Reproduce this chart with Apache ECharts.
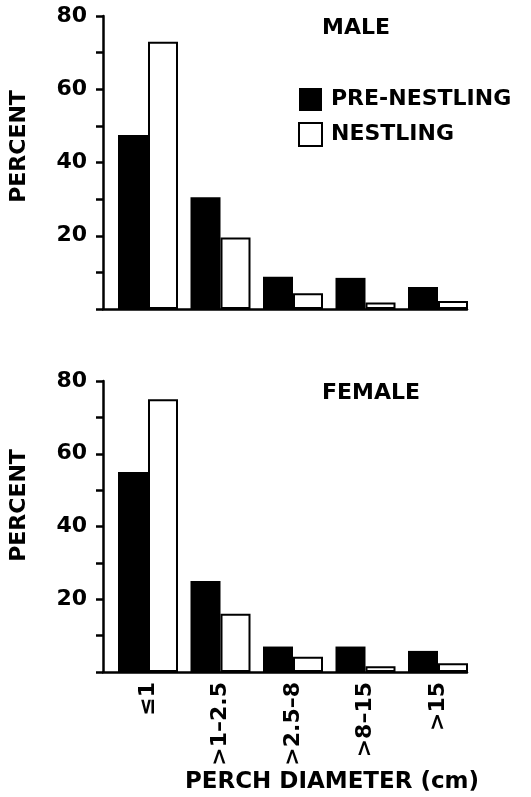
<!DOCTYPE html>
<html>
<head>
<meta charset="utf-8">
<script src="https://cdn.jsdelivr.net/npm/echarts@6/dist/echarts.min.js"></script>
<style>
  html, body { margin: 0; padding: 0; background: #fff; }
  #chart { width: 531px; height: 797px; }
</style>
</head>
<body>
<div id="chart"></div>
<script>
// perch diameter classes
const categories = ["≤1", ">1–2.5", ">2.5–8", ">8–15", ">15"];
// percent of perches
const malePre = [47.5, 30.5, 8.8, 8.5, 6];
const maleNest = [73, 19.5, 4.3, 1.8, 2.2];
const femalePre = [55, 25, 7, 7, 5.8];
const femaleNest = [75, 16, 4.2, 1.6, 2.4];
const yTickLabels = [20, 40, 60, 80];

const FONT = "DejaVu Sans";
const txt = { color: "#000", fontFamily: FONT, fontWeight: "bold", fontSize: 22 };
const line = { color: "#000", width: 2.5 };

var myChart = echarts.init(document.getElementById("chart"));

// two panels: grid 0/2 hold the axis lines, grid 1/3 hold the bars
const panels = [
  { top: 16, bottom: 488, title: "MALE", titleTop: 17, nameShift: 32 },
  { top: 381, bottom: 125, title: "FEMALE", titleTop: 382, nameShift: 42 },
];

var grid = [], xAxis = [], yAxis = [], title = [];
panels.forEach((p, i) => {
  grid.push({ left: 101, right: 64, top: p.top, bottom: p.bottom });
  grid.push({ left: 111.75, right: 56.75, top: p.top, bottom: p.bottom });
  title.push({ text: p.title, left: 322, top: p.titleTop, padding: 0, textStyle: txt });

  // axis line only
  xAxis.push({
    type: "value", gridIndex: 2 * i, min: 0, max: 1,
    axisLine: { show: true, onZero: false, lineStyle: line },
    axisTick: { show: false }, axisLabel: { show: false }, splitLine: { show: false },
  });
  // category axis for bars
  xAxis.push({
    type: "category", gridIndex: 2 * i + 1, data: categories,
    axisLine: { show: false }, axisTick: { show: false },
    axisLabel: { show: i === 1, rotate: 90, margin: 10, interval: 0, ...txt },
    name: i === 1 ? "PERCH DIAMETER (cm)" : "",
    nameLocation: "middle", nameGap: 99,
    nameTextStyle: { ...txt, fontSize: 23, padding: [0, 0, 0, 78] },
  });

  yAxis.push({
    type: "value", gridIndex: 2 * i, min: 0, max: 80, interval: 10,
    name: "PERCENT", nameLocation: "middle", nameGap: 73,
    nameTextStyle: { ...txt, padding: [0, 0, 0, p.nameShift] },
    axisLine: { show: true, lineStyle: line },
    axisTick: { show: true, length: 7, lineStyle: line },
    axisLabel: {
      margin: 16, ...txt,
      formatter: (v) => (yTickLabels.includes(v) ? String(v) : ""),
    },
    splitLine: { show: false },
  });
  yAxis.push({
    type: "value", gridIndex: 2 * i + 1, min: 0, max: 80, show: false,
  });
});

const preStyle = { color: "#000" };
const nestStyle = { color: "#fff", borderColor: "#000", borderWidth: 2 };

var option = {
  animation: false,
  backgroundColor: "#fff",
  title: title,
  grid: grid,
  xAxis: xAxis,
  yAxis: yAxis,
  legend: {
    orient: "vertical", left: 298, top: 88, padding: 0,
    itemWidth: 23, itemHeight: 23, itemGap: 11,
    icon: "rect",
    textStyle: { ...txt, padding: [0, 0, 0, 4] },
    data: ["PRE-NESTLING", "NESTLING"],
  },
  series: [
    { name: "PRE-NESTLING", type: "bar", xAxisIndex: 1, yAxisIndex: 1, data: malePre, barWidth: 30, barGap: "0%", itemStyle: preStyle },
    { name: "NESTLING", type: "bar", xAxisIndex: 1, yAxisIndex: 1, data: maleNest, barWidth: 30, barGap: "0%", itemStyle: nestStyle },
    { name: "PRE-NESTLING", type: "bar", xAxisIndex: 3, yAxisIndex: 3, data: femalePre, barWidth: 30, barGap: "0%", itemStyle: preStyle },
    { name: "NESTLING", type: "bar", xAxisIndex: 3, yAxisIndex: 3, data: femaleNest, barWidth: 30, barGap: "0%", itemStyle: nestStyle },
  ],
};

myChart.setOption(option);
</script>
</body>
</html>
